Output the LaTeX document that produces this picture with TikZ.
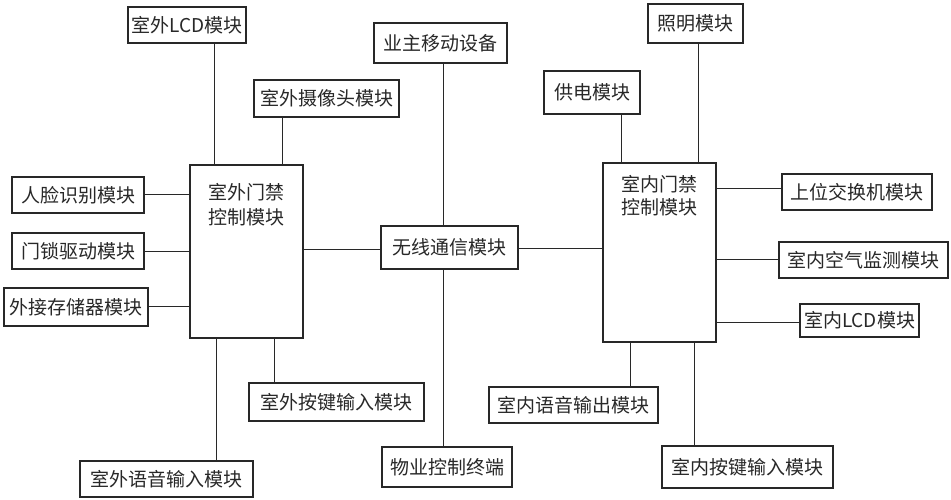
\documentclass[tikz,border=0pt]{standalone}
\usepackage{fontspec}
\setmainfont{Noto Sans CJK SC}
\definecolor{ink}{RGB}{40,40,40}
\begin{document}
\begin{tikzpicture}[x=1pt,y=-1pt,
  box/.style={draw=ink, line width=1.2pt, fill=white, rectangle, inner sep=0pt,
    font=\fontsize{19}{22}\selectfont, text=ink},
  big/.style={box, align=center},
  link/.style={draw=ink, line width=1pt}]
\useasboundingbox (0,0) rectangle (951,500);
% outdoor side
\node[box, minimum width=118, minimum height=36] (lcdout) at (187,25) {室外LCD模块};
\node[box, minimum width=145, minimum height=37] (cam) at (326.5,98.5) {室外摄像头模块};
\node[box, minimum width=132, minimum height=36] (face) at (78,195) {人脸识别模块};
\node[box, minimum width=132, minimum height=36] (lock) at (78,251) {门锁驱动模块};
\node[box, minimum width=144, minimum height=38] (store) at (76,307) {外接存储器模块};
\node[box, minimum width=113, minimum height=173,
  label={[name=outtxt, anchor=north, align=center, inner sep=0pt, yshift=-19pt,
    font=\fontsize{19}{25}\selectfont, text=ink]north:室外门禁\\控制模块}] (outctl) at (246.5,251.5) {};
\node[box, minimum width=175, minimum height=38] (keyout) at (336.5,402) {室外按键输入模块};
\node[box, minimum width=173, minimum height=36] (voiceout) at (166.5,479) {室外语音输入模块};
% middle
\node[box, minimum width=133, minimum height=40] (owner) at (440.5,43) {业主移动设备};
\node[box, minimum width=137, minimum height=43] (wireless) at (449.5,247.5) {无线通信模块};
\node[box, minimum width=130, minimum height=40] (prop) at (447,467) {物业控制终端};
% indoor side
\node[box, minimum width=96, minimum height=43] (power) at (592,92.5) {供电模块};
\node[box, minimum width=95, minimum height=39] (light) at (695.5,23.5) {照明模块};
\node[box, minimum width=113, minimum height=179,
  label={[name=intxt, anchor=north, align=center, inner sep=0pt, yshift=-13pt,
    font=\fontsize{19}{23}\selectfont, text=ink]north:室内门禁\\控制模块}] (inctl) at (659.5,252.5) {};
\node[box, minimum width=150, minimum height=36] (switch) at (857,192) {上位交换机模块};
\node[box, minimum width=169, minimum height=36] (air) at (863.5,260) {室内空气监测模块};
\node[box, minimum width=119, minimum height=33] (lcdin) at (859.5,320.5) {室内LCD模块};
\node[box, minimum width=169, minimum height=36] (spkin) at (573.5,405) {室内语音输出模块};
\node[box, minimum width=171, minimum height=42] (keyin) at (747.5,467) {室内按键输入模块};
% connectors outdoor
\draw[link] (lcdout.south -| 214,0) -- (outctl.north -| 214,0);
\draw[link] (cam.south -| 282,0) -- (outctl.north -| 282,0);
\draw[link] (face.east |- 0,195) -- (outctl.west |- 0,195);
\draw[link] (lock.east |- 0,251) -- (outctl.west |- 0,251);
\draw[link] (store.east |- 0,306) -- (outctl.west |- 0,306);
\draw[link] (outctl.south -| 216,0) -- (voiceout.north -| 216,0);
\draw[link] (outctl.south -| 274,0) -- (keyout.north -| 274,0);
\draw[link] (outctl.east |- 0,249) -- (wireless.west |- 0,249);
% middle
\draw[link] (owner.south -| 443,0) -- (wireless.north -| 443,0);
\draw[link] (wireless.south -| 443,0) -- (prop.north -| 443,0);
\draw[link] (wireless.east |- 0,248) -- (inctl.west |- 0,248);
% indoor
\draw[link] (power.south -| 621,0) -- (inctl.north -| 621,0);
\draw[link] (light.south -| 698,0) -- (inctl.north -| 698,0);
\draw[link] (inctl.east |- 0,189) -- (switch.west |- 0,189);
\draw[link] (inctl.east |- 0,259) -- (air.west |- 0,259);
\draw[link] (inctl.east |- 0,322) -- (lcdin.west |- 0,322);
\draw[link] (inctl.south -| 630,0) -- (spkin.north -| 630,0);
\draw[link] (inctl.south -| 694,0) -- (keyin.north -| 694,0);
\end{tikzpicture}
\end{document}
